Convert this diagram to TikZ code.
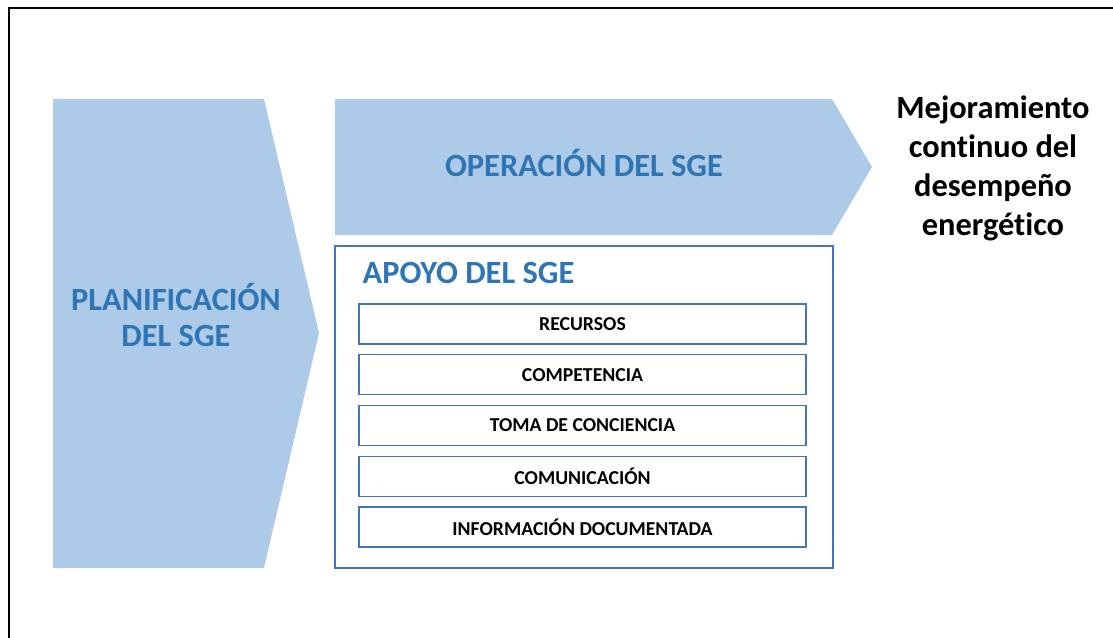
\documentclass[tikz,border=0pt]{standalone}
\usepackage{fontspec}
\setmainfont{Carlito}[Ligatures=NoCommon]
\usetikzlibrary{positioning}
\definecolor{flecha}{HTML}{ADCBE8}
\definecolor{azul}{HTML}{2E75B6}
\definecolor{borde}{HTML}{4472C4}

\begin{document}
\begin{tikzpicture}[x=0.75pt,y=-0.75pt,
    titulo/.style={font=\bfseries\fontsize{24.3}{27}\selectfont, text=azul, align=center},
    meta/.style={font=\bfseries\fontsize{24.3}{29.2}\selectfont, align=center},
    caja/.style={draw=borde, line width=1pt, minimum width=335.25pt, minimum height=30pt,
        font=\bfseries\fontsize{14.8}{17}\selectfont}]
        \useasboundingbox (0,0) rectangle (1113,638);

        % marco
        \draw[line width=1.5pt] (8.5,638) -- (8.5,8.5) -- (1113,8.5);

        % flechas
        \fill[flecha] (53,99) -- (264,99) -- (319,333) -- (264,568) -- (53,568) -- cycle;
        \fill[flecha] (335,99) -- (832,99) -- (872,167) -- (832,235) -- (335,235) -- cycle;

        \node[titulo] (planif) at (176,315) {PLANIFICACIÓN\\DEL SGE};
        \node[titulo] (operacion) at (584,163) {OPERACIÓN DEL SGE};
        \node[meta] (mejora) at (993,168) {Mejoramiento\\continuo del\\desempeño\\energético};

        % apoyo
        \draw[borde, line width=1.2pt] (335,246) rectangle (833,568);
        \node[titulo, anchor=west] (apoyo) at (358,273) {APOYO DEL SGE};

        \foreach \txt [count=\i] in {RECURSOS, COMPETENCIA, TOMA DE CONCIENCIA,
            COMUNICACIÓN, INFORMACIÓN DOCUMENTADA}
        {
            \node[caja] (item\i) at (582.5, 324 + \i*50.75 - 50.75) {\txt};
        }
    \end{tikzpicture}
\end{document}
